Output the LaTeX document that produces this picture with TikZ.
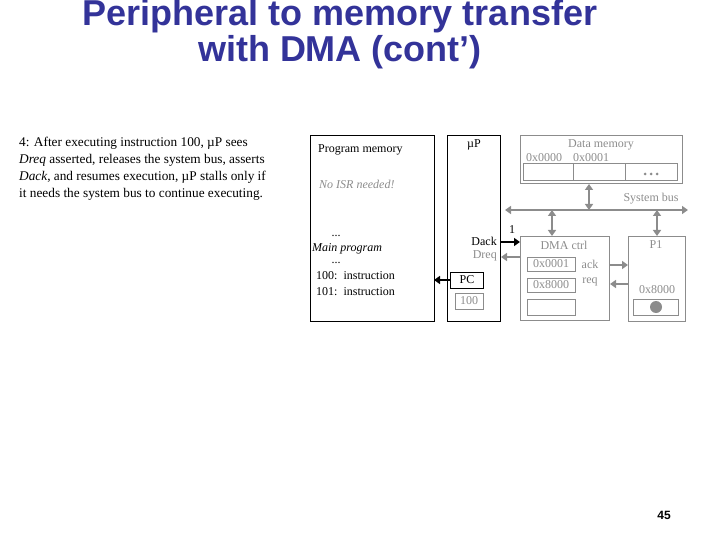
\documentclass[tikz,border=0pt]{standalone}
\usepackage{fontspec}
\setmainfont{Liberation Serif}
\newfontfamily\arialf{Liberation Sans}
\usetikzlibrary{arrows.meta}
\definecolor{ttl}{RGB}{51,51,153}
\definecolor{gr}{RGB}{140,140,140}
\begin{document}
\begin{tikzpicture}[x=1pt,y=-1pt,
  bx/.style={draw,line width=1pt},
  gbx/.style={draw=gr,line width=1pt},
  txt/.style={inner sep=0,font=\fontsize{12}{14}\selectfont},
  gtxt/.style={txt,text=gr},
  ttlstyle/.style={inner sep=0,text=ttl,font=\arialf\bfseries\fontsize{36}{38}\selectfont},
  garr/.style={draw=gr,line width=2pt,{Triangle[length=6pt,width=8pt]}-{Triangle[length=6pt,width=8pt]}},
  garr1/.style={draw=gr,line width=2pt,-{Triangle[length=6pt,width=8pt]}},
  barr/.style={draw=black,line width=2.5pt,-{Triangle[length=6pt,width=8pt]}}]
\useasboundingbox (0,0) rectangle (720,540);
\node[ttlstyle] (title1) at (340,16) {Peripheral to memory transfer};
\node[ttlstyle] (title2) at (340,52) {with DMA (cont’)};
\node[txt,align=left,anchor=north west,font=\fontsize{13.3}{17}\selectfont] (para) at (19,137) {4: After executing instruction 100, µP sees\\\textit{Dreq} asserted, releases the system bus, asserts\\\textit{Dack}, and resumes execution, µP stalls only if\\it needs the system bus to continue executing.};
% program memory
\draw[bx] (310,136) rectangle (434,321);
\node[txt,anchor=west] (pmt) at (318,150) {Program memory};
\node[gtxt,anchor=west,font=\itshape\fontsize{12}{14}\selectfont] (isr) at (319,184) {No ISR needed!};
\node[txt] (d1) at (336,236) {...};
\node[txt,font=\itshape\fontsize{12}{14}\selectfont] (mp) at (347,249) {Main program};
\node[txt] (d2) at (336,263) {...};
\node[txt,anchor=west] (i100) at (316,276) {100:\ \ instruction};
\node[txt,anchor=west] (i101) at (316,292) {101:\ \ instruction};
\coordinate (pmr) at (434,280);
% uP
\draw[bx] (447,136) rectangle (500,321);
\node[txt] (up) at (474,145) {µP};
\node[txt,anchor=east] (dack) at (497,241) {Dack};
\node[gtxt,anchor=east] (dreq) at (497,256) {Dreq};
\node[bx,minimum width=33pt,minimum height=16pt,inner sep=0,font=\fontsize{12}{14}\selectfont] (pc) at (467,280) {PC};
\node[gbx,text=gr,minimum width=28pt,minimum height=16pt,inner sep=0,font=\fontsize{12}{14}\selectfont] (v100) at (469,301) {100};
\draw[barr] (pc.west) -- (pmr);
% data memory
\draw[gbx] (520,136) rectangle (682,184);
\node[gtxt] (dm) at (601,145) {Data memory};
\node[gtxt] (a0) at (544,158) {0x0000};
\node[gtxt] (a1) at (591,158) {0x0001};
\draw[gbx] (523,164) rectangle (677,181);
\draw[gbx] (573,164) -- (573,181) (625,164) -- (625,181);
\foreach \xx in {645,651,657} \fill[gr] (\xx,174) circle (1.5);
\node[gtxt] (sb) at (651,199) {System bus};
\coordinate (bl) at (505,210); \coordinate (br) at (688,210);
\draw[garr] (bl) -- (br);
\draw[garr] (589,184) -- (589,210);
% DMA
\draw[gbx] (520,236) rectangle (609,320);
\node[gtxt] (dmat) at (564,245) {DMA ctrl};
\node[gbx,text=gr,minimum width=48pt,minimum height=14pt,inner sep=0,font=\fontsize{12}{14}\selectfont] (c1) at (551,264) {0x0001};
\node[gbx,text=gr,minimum width=48pt,minimum height=14pt,inner sep=0,font=\fontsize{12}{14}\selectfont] (c2) at (551,285) {0x8000};
\node[gbx,minimum width=48pt,minimum height=16pt,inner sep=0] (c3) at (551,307) {};
\node[gtxt] (ack) at (590,264) {ack};
\node[gtxt] (req) at (590,282) {req};
\draw[garr] (552,210) -- (552,236);
% P1
\draw[gbx] (628,236) rectangle (685,321);
\node[gtxt] (p1) at (656,245) {P1};
\node[gtxt] (p1a) at (657,290) {0x8000};
\node[gbx,minimum width=45pt,minimum height=16pt,inner sep=0] (p1c) at (656,307) {};
\fill[gr] (656,307) circle (6);
\draw[garr] (657,210) -- (657,236);
\draw[garr1] (610,265) -- (628,265);
\draw[garr1] (628,284) -- (610,284);
% Dack / Dreq
\draw[barr] (500,242) -- (520,242);
\node[txt] (one) at (512,230) {1};
\draw[garr1] (520,257) -- (501,257);
\node[inner sep=0,font=\arialf\bfseries\fontsize{12}{14}\selectfont] (pg) at (664,515) {45};
\end{tikzpicture}
\end{document}
